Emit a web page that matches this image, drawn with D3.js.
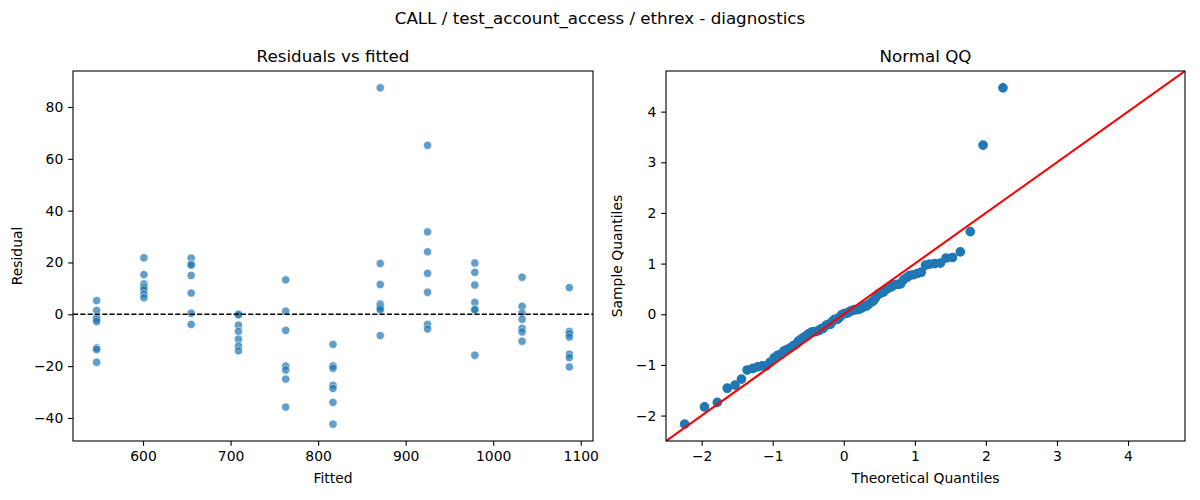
<!DOCTYPE html>
<html lang="en">
<head>
<meta charset="UTF-8"/>
<title>CALL / test_account_access / ethrex - diagnostics</title>
<script src="https://d3js.org/d3.v7.min.js"></script>
<style>
  body { margin: 0; background: #fff; }
  svg { font-family: "DejaVu Sans", sans-serif; }
  .tick text { font-size: 13.9px; fill: #000; }
  .tick line { stroke: #000; stroke-width: 1.1; }
  text.title { font-size: 16.7px; }
  text.label { font-size: 13.9px; }
</style>
</head>
<body>
<svg id="chart" width="1200" height="500"></svg>
<script>
// residuals grouped by fitted value (one list per fitted level)
const fittedLevels = [547, 601, 655, 709, 763, 817, 871, 925, 979, 1033, 1087];
const res547 = [5.3, 1.5, -1.2, -1.9, -2.8, -13.0, -13.6, -18.5];
const res601 = [21.8, 15.3, 11.7, 10.5, 9.5, 7.8, 6.4];
const res655 = [21.7, 19.3, 19.0, 15.0, 8.2, 0.4, -3.9];
const res709 = [0.1, -0.2, -4.2, -6.6, -9.6, -12.2, -14.1];
const res763 = [13.3, 1.2, -6.2, -20.0, -21.5, -25.0, -35.8];
const res817 = [-11.6, -19.9, -20.8, -27.4, -28.6, -34.0, -42.4];
const res871 = [87.4, 19.6, 11.5, 4.0, 3.2, 2.4, 1.7, -8.2];
const res925 = [65.2, 31.8, 24.1, 15.8, 8.5, -3.9, -5.7];
const res979 = [19.8, 16.2, 11.3, 4.6, 2.0, 1.7, -15.8];
const res1033 = [14.3, 3.1, 0.5, -1.9, -5.4, -6.8, -10.4];
const res1087 = [10.3, -6.6, -7.5, -8.8, -15.4, -16.7, -20.3];
const residualGroups = [res547, res601, res655, res709, res763, res817,
                        res871, res925, res979, res1033, res1087];

// normal QQ points
const qqTheoretical = [
  -2.24, -1.96, -1.78, -1.64, -1.53, -1.44, -1.36, -1.28, -1.21, -1.15,
  -1.09, -1.04, -0.98, -0.93, -0.89, -0.84, -0.80, -0.76, -0.71, -0.67,
  -0.64, -0.60, -0.56, -0.52, -0.49, -0.45, -0.42, -0.39, -0.35, -0.32,
  -0.29, -0.25, -0.22, -0.19, -0.16, -0.13, -0.09, -0.06, -0.03, 0.00,
  0.03, 0.06, 0.09, 0.13, 0.16, 0.19, 0.22, 0.25, 0.29, 0.32,
  0.35, 0.39, 0.42, 0.45, 0.49, 0.52, 0.56, 0.60, 0.64, 0.67,
  0.71, 0.76, 0.80, 0.84, 0.89, 0.93, 0.98, 1.04, 1.09, 1.15,
  1.21, 1.28, 1.36, 1.44, 1.53, 1.64, 1.78, 1.96, 2.24
];
const qqSample = [
  -2.17, -1.83, -1.74, -1.46, -1.40, -1.28, -1.10, -1.07, -1.04, -1.02,
  -1.02, -0.95, -0.86, -0.81, -0.79, -0.72, -0.70, -0.67, -0.62, -0.59,
  -0.53, -0.49, -0.45, -0.42, -0.38, -0.35, -0.34, -0.34, -0.32, -0.29,
  -0.28, -0.22, -0.20, -0.20, -0.14, -0.10, -0.10, -0.06, -0.01, 0.01,
  0.02, 0.03, 0.06, 0.08, 0.09, 0.09, 0.10, 0.12, 0.16, 0.16,
  0.20, 0.24, 0.27, 0.33, 0.40, 0.42, 0.44, 0.49, 0.53, 0.54,
  0.58, 0.59, 0.60, 0.68, 0.73, 0.77, 0.78, 0.81, 0.83, 0.97,
  0.99, 1.00, 1.01, 1.11, 1.12, 1.23, 1.63, 3.34, 4.47
];

const fittedTicks = [600, 700, 800, 900, 1000, 1100];
const residualTicks = [-40, -20, 0, 20, 40, 60, 80];
const qqTicks = [-2, -1, 0, 1, 2, 3, 4];

const svg = d3.select('#chart');
const tick = 4.86, pad = 4.86;

function padded(ext) {
  const p = (ext[1] - ext[0]) * 0.05;
  return [ext[0] - p, ext[1] + p];
}

// frame of an axes box
const left = {x0: 73, x1: 593, y0: 71, y1: 441};
const right = {x0: 666, x1: 1185, y0: 71, y1: 441};

svg.append('text').attr('class', 'title')
  .attr('x', 600).attr('y', 24).attr('text-anchor', 'middle')
  .text('CALL / test_account_access / ethrex - diagnostics');

function frame(box, id) {
  svg.append('clipPath').attr('id', id)
    .append('rect').attr('x', box.x0).attr('y', box.y0)
    .attr('width', box.x1 - box.x0).attr('height', box.y1 - box.y0);
}
function spines(box) {
  svg.append('rect').attr('x', box.x0).attr('y', box.y0)
    .attr('width', box.x1 - box.x0).attr('height', box.y1 - box.y0)
    .attr('fill', 'none').attr('stroke', '#000').attr('stroke-width', 1.1);
}
function axes(box, x, y, xt, yt) {
  const gx = svg.append('g').attr('transform', `translate(0,${box.y1})`)
    .call(d3.axisBottom(x).tickValues(xt).tickSize(tick).tickPadding(pad).tickFormat(d3.format('d')));
  gx.select('.domain').remove();
  gx.selectAll('.tick text').attr('dy', '0.76em');
  const gy = svg.append('g').attr('transform', `translate(${box.x0},0)`)
    .call(d3.axisLeft(y).tickValues(yt).tickSize(tick).tickPadding(pad).tickFormat(d3.format('d')));
  gy.select('.domain').remove();
  svg.selectAll('.tick text').attr('font-family', null);
  svg.selectAll('g').attr('font-family', null).attr('font-size', null);
}
function labels(box, title, xl, yl, ylx) {
  const cx = (box.x0 + box.x1) / 2, cy = (box.y0 + box.y1) / 2;
  svg.append('text').attr('class', 'title').attr('x', cx).attr('y', 62)
    .attr('text-anchor', 'middle').text(title);
  svg.append('text').attr('class', 'label').attr('x', cx).attr('y', 483)
    .attr('text-anchor', 'middle').text(xl);
  svg.append('text').attr('class', 'label')
    .attr('transform', `translate(${ylx},${cy}) rotate(-90)`)
    .attr('text-anchor', 'middle').text(yl);
}

// ---- Residuals vs fitted ----
const resPoints = [];
residualGroups.forEach((g, i) => g.forEach(r => resPoints.push({f: fittedLevels[i], r: r})));

const xL = d3.scaleLinear().domain(padded(d3.extent(resPoints, d => d.f))).range([left.x0, left.x1]);
const yL = d3.scaleLinear().domain(padded(d3.extent(resPoints, d => d.r))).range([left.y1, left.y0]);

frame(left, 'clipL');
const gL = svg.append('g').attr('clip-path', 'url(#clipL)');
gL.selectAll('circle').data(resPoints).enter().append('circle')
  .attr('cx', d => xL(d.f)).attr('cy', d => yL(d.r)).attr('r', 4.17)
  .attr('fill', '#1f77b4').attr('stroke', '#fff').attr('stroke-width', 0.67)
  .attr('opacity', 0.7);
gL.append('line')
  .attr('x1', left.x0).attr('x2', left.x1).attr('y1', yL(0)).attr('y2', yL(0))
  .attr('stroke', '#000').attr('stroke-width', 1.39).attr('stroke-dasharray', '5.1 2.2');
spines(left);
axes(left, xL, yL, fittedTicks, residualTicks);
labels(left, 'Residuals vs fitted', 'Fitted', 'Residual', 22);

// ---- Normal QQ ----
const qq = qqTheoretical.map((t, i) => ({t: t, s: qqSample[i]}));
const xlim = padded(d3.extent(qq, d => d.t));
const ylim = padded(d3.extent(qq, d => d.s));
const ends = [Math.min(xlim[0], ylim[0]), Math.max(xlim[1], ylim[1])];
const xR = d3.scaleLinear().domain(ends).range([right.x0, right.x1]);
const yR = d3.scaleLinear().domain(ends).range([right.y1, right.y0]);

frame(right, 'clipR');
const gR = svg.append('g').attr('clip-path', 'url(#clipR)');
gR.selectAll('circle').data(qq).enter().append('circle')
  .attr('cx', d => xR(d.t)).attr('cy', d => yR(d.s)).attr('r', 4.15)
  .attr('fill', '#1f77b4').attr('stroke', '#1f77b4').attr('stroke-width', 1.39);
gR.append('line')
  .attr('x1', xR(ends[0])).attr('y1', yR(ends[0]))
  .attr('x2', xR(ends[1])).attr('y2', yR(ends[1]))
  .attr('stroke', '#ff0000').attr('stroke-width', 2.08);
spines(right);
axes(right, xR, yR, qqTicks, qqTicks);
labels(right, 'Normal QQ', 'Theoretical Quantiles', 'Sample Quantiles', 622);
</script>
</body>
</html>
